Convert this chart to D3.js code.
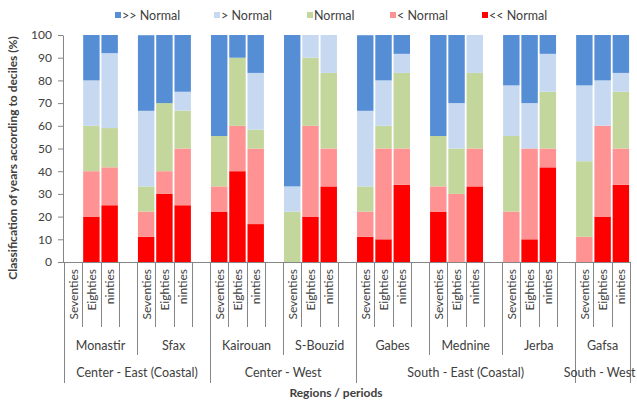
<!DOCTYPE html>
<html>
<head>
<meta charset="utf-8">
<script src="https://cdn.jsdelivr.net/npm/d3@7"></script>
<style>
  html, body { margin: 0; padding: 0; background: #fff; }
  svg { display: block; font-family: Lato, "Open Sans", sans-serif; }
</style>
</head>
<body>
<svg id="chart" width="637" height="401"></svg>
<script>
// ---- data ----
const groups = ["Center - East (Coastal)", "Center - West", "South - East (Coastal)", "South - West"];
const regions = ["Monastir", "Sfax", "Kairouan", "S-Bouzid", "Gabes", "Mednine", "Jerba", "Gafsa"];
const regionGroup = [0, 0, 1, 1, 2, 2, 2, 3];
const periods = ["Seventies", "Eighties", "ninties"];
const classes = [">> Normal", "> Normal", "Normal", "< Normal", "<< Normal"];
const yTicks = [0, 10, 20, 30, 40, 50, 60, 70, 80, 90, 100];

// values per bar, order: region x period (Seventies, Eighties, ninties)
const veryLow = [0, 20, 25,   11.1, 30, 25,   22.2, 40, 16.7,   0, 20, 33.3,   11.1, 10, 34,   22.2, 0, 33.3,   0, 10, 41.7,   0, 20, 34];
const low     = [0, 20, 16.7, 11.1, 10, 25,   11.1, 20, 33.3,   0, 40, 16.7,   11.1, 40, 16,   11.1, 30, 16.7,  22.2, 40, 8.3,  11.1, 40, 16];
const normal  = [0, 20, 17.3, 11.1, 30, 16.7, 22.2, 30, 8.3,    22.2, 30, 33.3, 11.1, 10, 33.3, 22.2, 20, 33.3,  33.3, 0, 25,   33.3, 0, 25];
const high    = [0, 20, 33,   33.3, 0, 8.3,   0, 0, 25,         11.1, 10, 16.7, 33.3, 20, 8.4,  0, 20, 16.7,     22.3, 20, 16.7, 33.4, 20, 8.3];
const veryHigh= [0, 20, 8,    33.3, 30, 25,   44.5, 10, 16.7,   66.7, 0, 0,     33.3, 20, 8.3,  44.5, 30, 0,     22.2, 30, 8.3,  22.2, 20, 16.7];

const colors = {"<< Normal": "#ff0000", "< Normal": "#ff9393", "Normal": "#c3d69b", "> Normal": "#c6d9f1", ">> Normal": "#558ed5"};

// ---- build table ----
const seriesByClass = {"<< Normal": veryLow, "< Normal": low, "Normal": normal, "> Normal": high, ">> Normal": veryHigh};
const slots = [];
const rows = [];
regions.forEach((r, ri) => {
  periods.forEach((p, pi) => {
    const key = r + "|" + p;
    slots.push(key);
    const row = {key, region: r, period: p};
    classes.forEach(c => row[c] = seriesByClass[c][ri * 3 + pi]);
    rows.push(row);
  });
  if (ri < regions.length - 1) slots.push(r + "|gap");
});

const svg = d3.select("#chart");
const plotL = 64, plotR = 630, plotT = 35, plotB = 262;
const x = d3.scaleBand().domain(slots).range([plotL, plotR]).paddingInner(0.1).paddingOuter(0.05);
const y = d3.scaleLinear().domain([0, 100]).range([plotB, plotT]);
const step = (plotR - plotL) / slots.length;
const axisColor = "#868686";
const textColor = "#404040";

// stacked bars (bottom to top: << , <, Normal, >, >>)
const stackOrder = ["<< Normal", "< Normal", "Normal", "> Normal", ">> Normal"];
const stacked = d3.stack().keys(stackOrder)(rows);
svg.append("g").selectAll("g").data(stacked).join("g")
  .attr("fill", d => colors[d.key])
  .selectAll("rect").data(d => d).join("rect")
  .attr("x", d => x(d.data.key))
  .attr("width", x.bandwidth())
  .attr("y", d => y(d[1]))
  .attr("height", d => Math.max(0, y(d[0]) - y(d[1])));

// y axis
const yAxis = svg.append("g").attr("transform", `translate(${plotL - 1},0)`)
  .call(d3.axisLeft(y).tickValues(yTicks).tickSize(5).tickPadding(6).tickSizeOuter(0));
yAxis.select(".domain").attr("stroke", axisColor);
yAxis.selectAll(".tick line").attr("stroke", axisColor);
yAxis.selectAll(".tick text").attr("fill", textColor).style("font-size", "12px").style("font-family", "Lato, sans-serif");

// y title
svg.append("text")
  .attr("transform", `translate(17,158) rotate(-90)`)
  .attr("text-anchor", "middle")
  .attr("fill", textColor)
  .style("font-size", "12px").style("font-weight", "bold")
  .text("Classification of years according to deciles (%)");

// x axis: horizontal line
const axG = svg.append("g").attr("stroke", axisColor).attr("stroke-width", 1);
axG.append("line").attr("x1", plotL - 1).attr("x2", plotR).attr("y1", plotB + 0.5).attr("y2", plotB + 0.5);

const yPeriod = 327, yRegion = 355, yGroup = 383;
// slot boundaries
for (let i = 0; i <= slots.length; i++) {
  const xx = Math.round(plotL + i * step) + 0.5;
  axG.append("line").attr("x1", xx).attr("x2", xx).attr("y1", plotB).attr("y2", yPeriod);
}
// region boundaries
const regionStart = ri => plotL + ri * 4 * step;
const regionEnd = ri => ri === regions.length - 1 ? plotR : plotL + (ri * 4 + 4) * step;
regions.forEach((r, ri) => {
  [regionStart(ri), regionEnd(ri)].forEach(xv => {
    const xx = Math.round(xv) + 0.5;
    axG.append("line").attr("x1", xx).attr("x2", xx).attr("y1", plotB).attr("y2", yRegion);
  });
});
// group boundaries
groups.forEach((g, gi) => {
  const idx = regionGroup.map((v, i) => v === gi ? i : -1).filter(i => i >= 0);
  const x0 = regionStart(idx[0]), x1 = regionEnd(idx[idx.length - 1]);
  [x0, x1].forEach(xv => {
    const xx = Math.round(xv) + 0.5;
    axG.append("line").attr("x1", xx).attr("x2", xx).attr("y1", plotB).attr("y2", yGroup);
  });
  svg.append("text")
    .attr("x", (x0 + x1) / 2 - (gi === 3 ? 3 : 0)).attr("y", 372)
    .attr("text-anchor", "middle").attr("dominant-baseline", "central")
    .attr("fill", textColor).style("font-size", "12.5px")
    .text(g);
});

// period labels
rows.forEach(d => {
  const cx = x(d.key) + x.bandwidth() / 2;
  svg.append("text")
    .attr("transform", `translate(${cx},269) rotate(-90)`)
    .attr("text-anchor", "end").attr("dominant-baseline", "central")
    .attr("fill", textColor).style("font-size", "12px")
    .text(d.period);
});

// region labels
regions.forEach((r, ri) => {
  svg.append("text")
    .attr("x", (regionStart(ri) + regionEnd(ri)) / 2).attr("y", 345)
    .attr("text-anchor", "middle").attr("dominant-baseline", "central")
    .attr("fill", textColor).style("font-size", "12.5px")
    .text(r);
});

// x title
svg.append("text")
  .attr("x", 336).attr("y", 392)
  .attr("text-anchor", "middle").attr("dominant-baseline", "central")
  .attr("fill", textColor).style("font-size", "12px").style("font-weight", "bold")
  .text("Regions / periods");

// legend
const legendX = [115, 214, 307, 390, 482];
const leg = svg.append("g");
classes.forEach((c, i) => {
  const g = leg.append("g").attr("transform", `translate(${legendX[i]},15)`);
  g.append("rect").attr("x", 0).attr("y", -3).attr("width", 6).attr("height", 6).attr("fill", colors[c]);
  g.append("text").attr("x", 7).attr("y", 0).attr("dominant-baseline", "central")
    .attr("fill", textColor).style("font-size", "12.5px").text(c);
});
</script>
</body>
</html>
